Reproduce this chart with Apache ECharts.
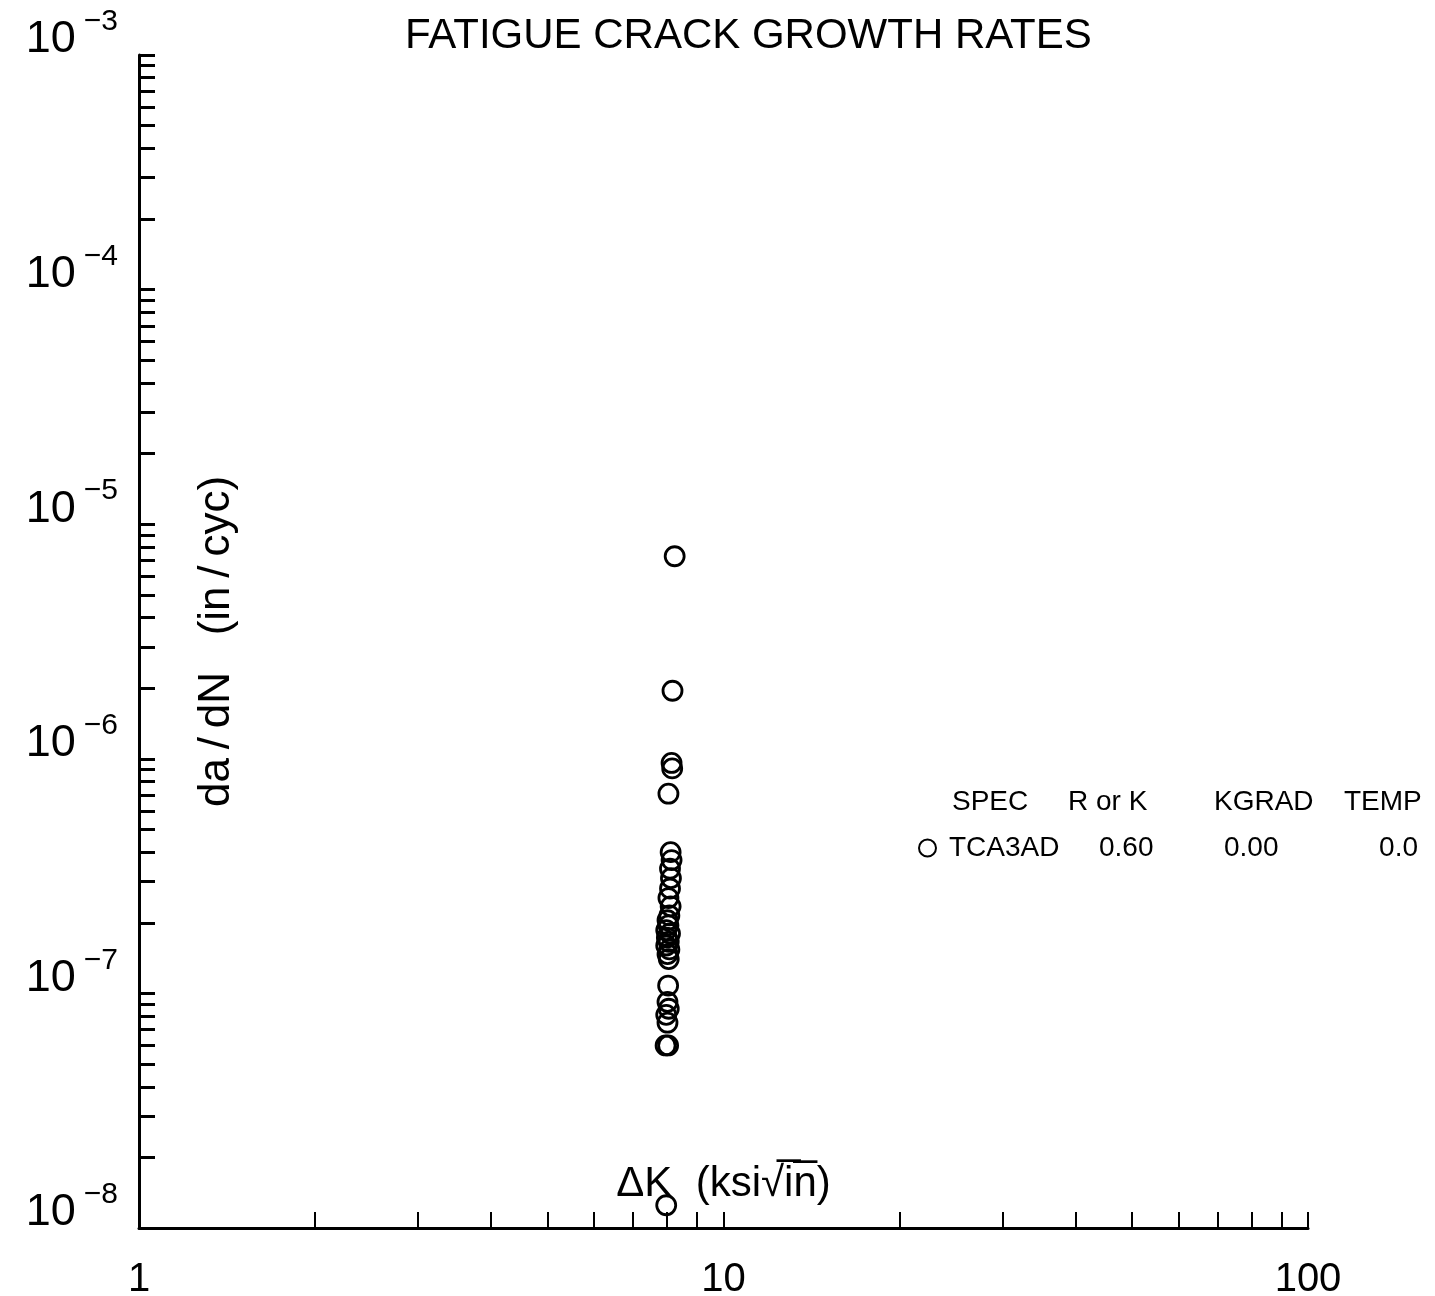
<!DOCTYPE html>
<html>
<head>
<meta charset="utf-8">
<script src="https://cdn.jsdelivr.net/npm/echarts@6/dist/echarts.min.js"></script>
<style>
  html, body { margin: 0; background: #fff; }
  #chart { width: 1435px; height: 1296px; }
</style>
</head>
<body>
<div id="chart"></div>
<script>
// specimen TCA3AD, R = 0.60
const deltaK = [
  8.25, 8.18, 8.15, 8.17, 8.05, 8.12, 8.15, 8.10, 8.13, 8.10,
  8.05, 8.12, 8.08, 8.02, 8.05, 7.98, 8.10, 8.00, 8.06, 7.98,
  8.08, 8.02, 8.06, 8.04, 8.02, 8.06, 7.98, 8.02, 7.96, 8.04,
  7.98,
];
const dadN = [
  7.3e-6, 1.95e-6, 9.6e-7, 9.1e-7, 7.1e-7, 4.0e-7, 3.7e-7, 3.4e-7, 3.1e-7, 2.8e-7,
  2.55e-7, 2.35e-7, 2.15e-7, 2.05e-7, 1.95e-7, 1.86e-7, 1.8e-7, 1.73e-7, 1.66e-7, 1.6e-7,
  1.54e-7, 1.47e-7, 1.4e-7, 1.08e-7, 9.2e-8, 8.6e-8, 8.1e-8, 7.5e-8, 6.0e-8, 6.0e-8,
  1.25e-8,
];

const xDecades = [1, 10];
const yDecades = [1e-8, 1e-7, 1e-6, 1e-5, 1e-4];
const steps = [1, 2, 3, 4, 5, 6, 7, 8, 9];
const xLabels = [1, 10, 100];
const yLabels = [1e-8, 1e-7, 1e-6, 1e-5, 1e-4, 1e-3];

const headers = ['SPEC', 'R or K', 'KGRAD', 'TEMP'];
const specRow = ['TCA3AD', '0.60', '0.00', '0.0'];

const xTicks = xDecades.flatMap(d => steps.map(s => s * d)).concat([100]);
const yTicks = yDecades.flatMap(d => steps.map(s => s * d)).concat([1e-3]);

const font = '"Liberation Sans", Arial, sans-serif';

const chart = echarts.init(document.getElementById('chart'));

chart.setOption({
  backgroundColor: '#fff',
  animation: false,
  textStyle: { fontFamily: font, color: '#000' },
  title: {
    text: 'FATIGUE CRACK GROWTH RATES',
    left: 400,
    top: 10,
    textStyle: { fontFamily: font, fontSize: 42, fontWeight: 'normal', color: '#000' },
  },
  grid: { left: 139, right: 127, top: 55, bottom: 68, outerBoundsMode: 'none' },
  xAxis: {
    type: 'log',
    logBase: 10,
    min: 1,
    max: 100,
    name: 'ΔK  (ksi√i\u0305n\u0305)',
    nameLocation: 'middle',
    nameGap: -44,
    nameTextStyle: { fontSize: 42, color: '#000', verticalAlign: 'middle', fontFamily: font },
    axisLine: { lineStyle: { color: '#000', width: 3 } },
    axisTick: { inside: true, length: 16, customValues: xTicks, lineStyle: { color: '#000', width: 2 } },
    axisLabel: { customValues: xLabels, fontSize: 40, color: '#000', margin: 32, fontFamily: font },
    splitLine: { show: false },
  },
  yAxis: {
    type: 'log',
    logBase: 10,
    min: 1e-8,
    max: 1e-3,
    name: 'da\u2009/\u2009dN   (in\u2009/\u2009cyc)',
    nameLocation: 'middle',
    nameRotate: 90,
    nameGap: -78,
    nameTextStyle: { fontSize: 44, color: '#000', verticalAlign: 'middle', align: 'center', fontFamily: font },
    axisLine: { lineStyle: { color: '#000', width: 3 } },
    axisTick: { inside: true, length: 16, customValues: yTicks, lineStyle: { color: '#000', width: 3 } },
    axisLabel: {
      customValues: yLabels,
      margin: 21,
      verticalAlign: 'middle',
      padding: [0, 0, 30, 0],
      formatter: v => '{b|10}{s|\u2212' + (-Math.round(Math.log10(v))) + '}',
      rich: {
        b: { fontSize: 45, lineHeight: 66, color: '#000', fontFamily: font },
        s: { fontSize: 30, lineHeight: 30, verticalAlign: 'top', color: '#000', fontFamily: font, padding: [0, 0, 0, 8] },
      },
    },
    splitLine: { show: false },
  },
  legend: {
    left: 913,
    top: 829,
    itemWidth: 17,
    itemHeight: 17,
    icon: 'circle',
    itemStyle: { color: 'transparent', borderColor: '#000', borderWidth: 2 },
    formatter: () => '{n|' + specRow[0] + '}{r|' + specRow[1] + '}{k|' + specRow[2] + '}{t|' + specRow[3] + '}',
    textStyle: {
      fontFamily: font,
      fontSize: 28,
      color: '#000',
      rich: {
        n: { width: 150, fontSize: 28, padding: [0, 0, 0, 8] },
        r: { width: 125, fontSize: 28 },
        k: { width: 130, fontSize: 28 },
        t: { width: 64, fontSize: 28, align: 'right' },
      },
    },
  },
  graphic: [
    {
      type: 'text',
      left: 952,
      top: 788,
      style: {
        text: '{a|' + headers[0] + '}{b|' + headers[1] + '}{c|' + headers[2] + '}{d|' + headers[3] + '}',
        font: '28px ' + font,
        fill: '#000',
        rich: {
          a: { width: 116, fontSize: 28 },
          b: { width: 146, fontSize: 28 },
          c: { width: 130, fontSize: 28 },
          d: { fontSize: 28 },
        },
      },
    },
  ],
  series: [
    {
      name: specRow[0],
      type: 'scatter',
      symbol: 'circle',
      symbolSize: 19,
      itemStyle: { color: 'transparent', borderColor: '#000', borderWidth: 2.8, opacity: 1 },
      data: deltaK.map((k, i) => [k, dadN[i]]),
    },
  ],
});
</script>
</body>
</html>
